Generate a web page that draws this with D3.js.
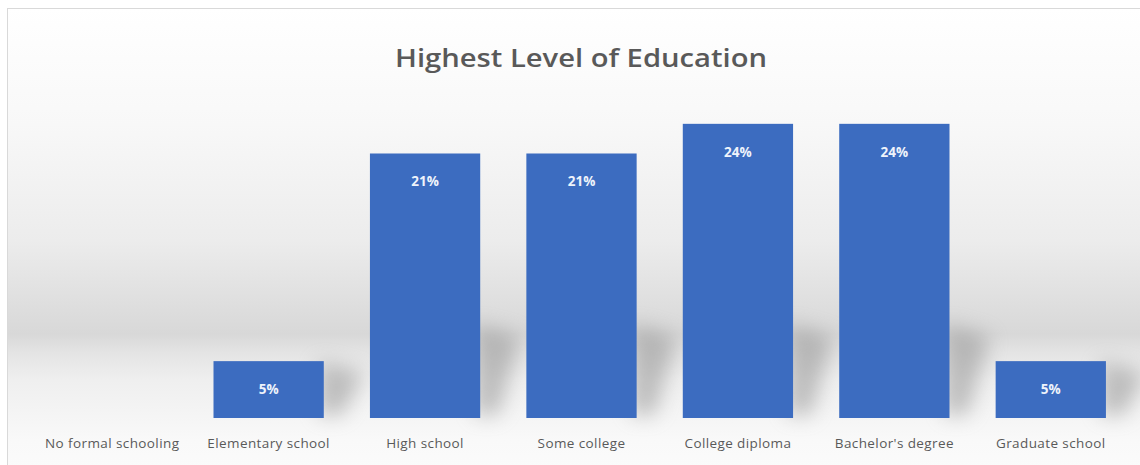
<!DOCTYPE html>
<html>
<head>
<meta charset="utf-8">
<script src="https://cdn.jsdelivr.net/npm/d3@7"></script>
<style>
  html, body { margin: 0; padding: 0; background: #fff; }
  svg { display: block; }
</style>
</head>
<body>
<div id="chart"></div>
<script>
// Data
const categories = ["No formal schooling", "Elementary  school", "High school", "Some college",
                    "College diploma", "Bachelor's degree", "Graduate school"];
const values = [0, 4.6, 21.4, 21.4, 23.8, 23.8, 4.6];
const valueLabels = ["", "5%", "21%", "21%", "24%", "24%", "5%"];
const title = "Highest Level of Education";

const W = 1140, H = 465;
const svg = d3.select("#chart").append("svg").attr("width", W).attr("height", H);
const defs = svg.append("defs");

// background gradient: white at top to grey near the floor
const bg = defs.append("linearGradient").attr("id", "bg").attr("x1", 0).attr("y1", 0).attr("x2", 0).attr("y2", 1);
[[0, "#ffffff"], [0.25, "#f8f8f8"], [0.5, "#ececec"], [0.7, "#d8d8d8"], [0.74, "#e4e4e4"],
 [0.8, "#efefef"], [0.93, "#f9f9f9"], [1, "#fbfbfb"]]
  .forEach(([o, c]) => bg.append("stop").attr("offset", o).attr("stop-color", c));

const blur = defs.append("filter").attr("id", "blur").attr("x", "-50%").attr("y", "-50%").attr("width", "200%").attr("height", "200%");
blur.append("feGaussianBlur").attr("stdDeviation", 10);

svg.append("rect").attr("x", 7.5).attr("y", 8.5).attr("width", W).attr("height", H)
  .attr("fill", "url(#bg)").attr("stroke", "#d9d9d9");

const x = d3.scaleBand().domain(categories).range([34, 1129]).paddingInner(0.295).paddingOuter(0.1475);
const y = d3.scaleLinear().domain([0, 25]).range([418, 109]);

// soft shadows to the right of the bars
const shadows = svg.append("g").attr("filter", "url(#blur)").attr("opacity", 0.5);
categories.forEach((c, i) => {
  if (!values[i]) return;
  const x0 = x(c) + x.bandwidth(), yt = y(values[i]);
  const top = Math.max(yt, 325);
  shadows.append("path")
    .attr("d", `M${x0 - 5},${top} L${x0 + 40},${top + 12} L${x0 + 18},${415} L${x0 - 5},${415} Z`)
    .attr("fill", "#8a8a8a");
});

// bars
svg.append("g").selectAll("rect").data(categories).join("rect")
  .attr("x", d => x(d))
  .attr("y", (d, i) => y(values[i]))
  .attr("width", x.bandwidth())
  .attr("height", (d, i) => y(0) - y(values[i]))
  .attr("fill", "#3c6cc0");

// value labels inside the bars
svg.append("g").selectAll("text").data(categories).join("text")
  .attr("x", d => x(d) + x.bandwidth() / 2)
  .attr("y", (d, i) => y(values[i]) + 33)
  .attr("text-anchor", "middle")
  .attr("font-family", "'Open Sans', sans-serif")
  .attr("font-weight", "bold")
  .attr("font-size", 13.5)
  .attr("fill", "#eef3fb")
  .text((d, i) => valueLabels[i]);

// category axis
const axis = svg.append("g").attr("transform", "translate(0,418)")
  .call(d3.axisBottom(x).tickSize(0).tickPadding(20));
axis.select(".domain").remove();
axis.selectAll("text")
  .attr("font-family", "'Open Sans', sans-serif")
  .attr("font-size", 13.5)
  .attr("letter-spacing", 0.4)
  .attr("fill", "#595959");

// title
svg.append("text")
  .attr("x", 581).attr("y", 67)
  .attr("text-anchor", "middle")
  .attr("font-family", "'Open Sans', sans-serif")
  .attr("font-weight", 600)
  .attr("font-size", 26)
  .attr("fill", "#595959")
  .attr("textLength", 372).attr("lengthAdjust", "spacingAndGlyphs")
  .text(title);
</script>
</body>
</html>
